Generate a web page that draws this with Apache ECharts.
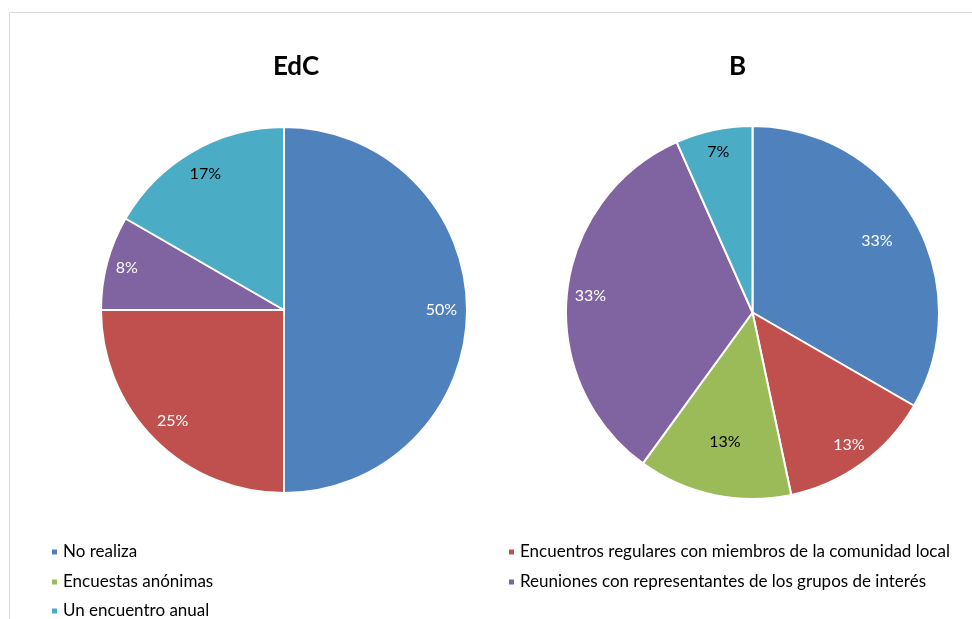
<!DOCTYPE html>
<html>
<head>
<meta charset="utf-8">
<style>
  html, body { margin: 0; padding: 0; background: #ffffff; }
  #chart { width: 972px; height: 619px; }
</style>
<script src="https://cdn.jsdelivr.net/npm/echarts@6/dist/echarts.min.js"></script>
</head>
<body>
<div id="chart"></div>
<script>
// Categories shared by both pies
const categories = [
  'No realiza',
  'Encuentros regulares con miembros de la comunidad local',
  'Encuestas anónimas',
  'Reuniones con representantes de los grupos de interés',
  'Un encuentro anual'
];
// Responses per category
const valuesEdC = [6, 3, 0, 1, 2];
const valuesB = [5, 2, 2, 5, 1];
const titles = ['EdC', 'B'];

// Styling
const palette = ['#4F81BD', '#C0504D', '#9BBB59', '#8064A2', '#4BACC6'];
const labelColors = ['#FFFFFF', '#FFFFFF', '#000000', '#FFFFFF', '#000000'];
const FONT = 'Lato, "Open Sans", sans-serif';

// Pie geometry and per-slice label distance (fraction of radius)
const pies = [
  { values: valuesEdC, center: [284, 310], r: 183, labelFrac: [0.86, 0.86, 0.86, 0.89, 0.86], titleX: 296 },
  { values: valuesB, center: [752.5, 312.5], r: 186.5, labelFrac: [0.77, 0.88, 0.71, 0.874, 0.88], titleX: 737.5 }
];

// Legend slots: [category index, marker x, row centre y]
const legendSlots = [
  [0, 50, 552], [1, 507, 552],
  [2, 50, 582], [3, 507, 582],
  [4, 50, 611]
];

const series = [];
// Coloured slices
pies.forEach(function (p, k) {
  series.push({
    type: 'pie',
    name: titles[k],
    center: p.center,
    radius: [0, p.r],
    startAngle: 90,
    clockwise: true,
    avoidLabelOverlap: false,
    silent: true,
    label: { show: false },
    labelLine: { show: false },
    itemStyle: { borderColor: '#FFFFFF', borderWidth: 2 },
    data: categories.map(function (c, i) { return { name: c, value: p.values[i] }; })
  });
});
// Percentage labels: transparent copies of each pie, one per slice, so every
// label sits at its own distance from the centre along the slice bisector.
pies.forEach(function (p, k) {
  p.values.forEach(function (v, idx) {
    if (v === 0) return;
    const d = p.labelFrac[idx] * p.r - 3;
    const r0 = Math.max(0, 2 * d - p.r);
    series.push({
      type: 'pie',
      name: titles[k] + '-label-' + idx,
      center: p.center,
      radius: [r0, p.r],
      startAngle: 90,
      clockwise: true,
      avoidLabelOverlap: false,
      silent: true,
      percentPrecision: 2,
      itemStyle: { color: 'rgba(0,0,0,0)', borderWidth: 0 },
      labelLine: { show: false },
      label: { show: false },
      data: categories.map(function (c, i) {
        return {
          name: c,
          value: p.values[i],
          label: {
            show: i === idx,
            position: 'inside',
            fontFamily: FONT,
            fontSize: 16,
            color: labelColors[i],
            formatter: function (params) { return Math.round(params.percent) + '%'; }
          }
        };
      })
    });
  });
});

const option = {
  animation: false,
  backgroundColor: '#FFFFFF',
  color: palette,
  legend: legendSlots.map(function (s) {
    return {
      orient: 'horizontal', left: s[1], top: s[2] - 10,
      icon: 'rect', itemWidth: 7, itemHeight: 7, selectedMode: false,
      padding: 0,
      textStyle: { fontFamily: FONT, fontSize: 17, color: '#000000', lineHeight: 20 },
      data: [categories[s[0]]]
    };
  }),
  graphic: [
    {
      type: 'rect', silent: true,
      shape: { x: 9.5, y: 12.5, width: 1000, height: 700 },
      style: { fill: 'none', stroke: '#D9D9D9', lineWidth: 1 }
    }
  ].concat(pies.map(function (p, k) {
    return {
      type: 'text', silent: true, x: p.titleX, y: 67,
      style: {
        text: titles[k], fontFamily: FONT, fontSize: 26, fontWeight: 'bold',
        fill: '#000000', align: 'center', verticalAlign: 'middle'
      }
    };
  })),
  series: series
};

const chart = echarts.init(document.getElementById('chart'), null, { renderer: 'canvas' });
chart.setOption(option);
</script>
</body>
</html>
